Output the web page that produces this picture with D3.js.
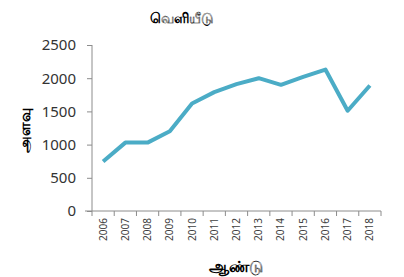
<!DOCTYPE html>
<html><head><meta charset="utf-8">
<script src="https://cdn.jsdelivr.net/npm/d3@7"></script>
<style>body{margin:0;background:#fff}svg{display:block}</style>
</head><body>
<svg id="c" width="404" height="277"></svg>
<script>
const years = ["2006","2007","2008","2009","2010","2011","2012","2013","2014","2015","2016","2017","2018"];
const values = [745, 1030, 1030, 1200, 1620, 1790, 1910, 2000, 1900, 2020, 2130, 1510, 1890];
const yTicks = [0, 500, 1000, 1500, 2000, 2500];
const title = "வெளியீடு";
const xTitle = "ஆண்டு";
const yTitle = "அளவு";

const svg = d3.select("#c");
const font = "'Noto Sans', 'DejaVu Sans', sans-serif";
const x = d3.scaleBand().domain(years).range([92, 381]);
const y = d3.scaleLinear().domain([0, 2500]).range([211, 45]);
const axisColor = "#8c8c8c";

// y axis
const ya = svg.append("g").attr("transform", "translate(92,0)")
  .call(d3.axisLeft(y).tickValues(yTicks).tickFormat(d3.format("d")).tickSize(5).tickPadding(11));
ya.select(".domain").attr("stroke", axisColor).attr("d", `M0,${y(2500)}V${y(0)}`);
ya.selectAll(".tick line").attr("stroke", axisColor);
ya.selectAll("text").attr("font-family", font).attr("font-size", 15).attr("fill", "#333");

// x axis with ticks between categories
const xa = svg.append("g").attr("transform", `translate(0,${y(0)})`)
  .call(d3.axisBottom(x).tickSize(0).tickFormat(d => d));
xa.select(".domain").attr("stroke", axisColor).attr("d", `M85,0H381`);
xa.selectAll("text").attr("font-family", font).attr("font-size", 10).attr("fill", "#404040")
  .attr("transform", "rotate(-90)").attr("text-anchor", "end").attr("dx", "-7").attr("dy", "0.35em")
  .attr("x", 0).attr("y", 0);
const bounds = years.map(d => x(d)).concat([x(years[years.length-1]) + x.bandwidth()]);
xa.selectAll(".bline").data(bounds).enter().append("line")
  .attr("x1", d => d).attr("x2", d => d).attr("y1", 0).attr("y2", 5)
  .attr("stroke", axisColor);

// line
const line = d3.line().x((d, i) => x(years[i]) + x.bandwidth()/2).y(d => y(d));
svg.append("path").datum(values).attr("d", line)
  .attr("fill", "none").attr("stroke", "#4bacc6").attr("stroke-width", 4)
  .attr("stroke-linejoin", "round").attr("stroke-linecap", "butt");

// titles
svg.append("text").attr("x", 182).attr("y", 23).attr("text-anchor", "middle")
  .attr("font-family", font).attr("font-weight", "bold").attr("font-size", 14).text(title);
svg.append("text").attr("x", 236).attr("y", 272).attr("text-anchor", "middle")
  .attr("font-family", font).attr("font-weight", "bold").attr("font-size", 16).text(xTitle);
svg.append("text").attr("transform", "translate(30,130) rotate(-90)").attr("text-anchor", "middle")
  .attr("font-family", font).attr("font-weight", "bold").attr("font-size", 15).text(yTitle);
</script>
</body></html>
